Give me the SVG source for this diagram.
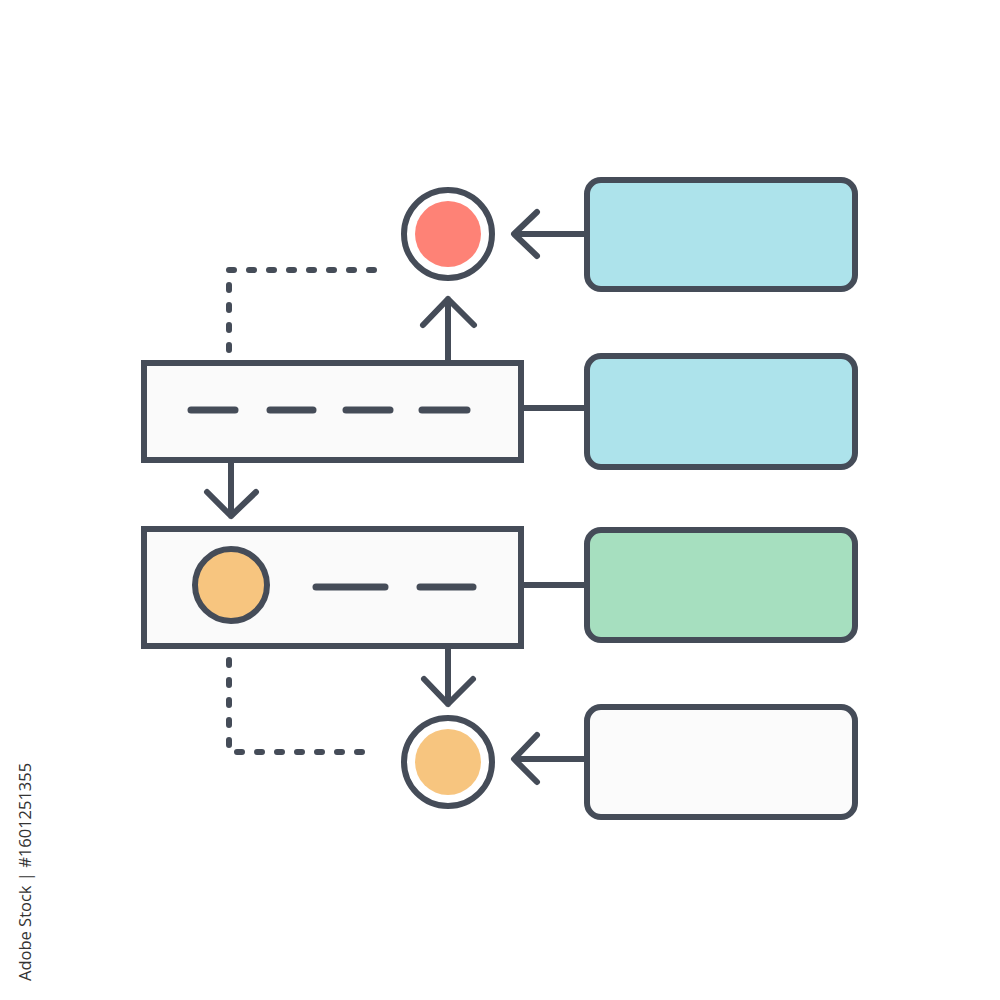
<svg xmlns="http://www.w3.org/2000/svg" width="1000" height="1000" viewBox="0 0 1000 1000">
<style>
.ln{fill:none;stroke:#454c58;stroke-width:6;stroke-linecap:round;stroke-linejoin:round}
.bar{fill:#fafafa;stroke:#454c58;stroke-width:6;stroke-linejoin:miter}
.card{stroke:#454c58;stroke-width:6}
.ring{fill:#ffffff;stroke:#454c58;stroke-width:6}
.dash{fill:none;stroke:#454c58;stroke-width:7;stroke-linecap:round}
.dot{fill:none;stroke:#454c58;stroke-width:6;stroke-linecap:round;stroke-dasharray:5 15}
.wm{font-family:"Open Sans","Liberation Sans",sans-serif;font-size:16.5px;fill:#333333}
</style>
<rect width="1000" height="1000" fill="#ffffff"/>
<g id="connectors">
  <path class="dot" d="M229,350 V270 H378"/>
  <path class="dot" d="M229,660 V752 H373"/>
  <path class="ln" d="M587,234 H515 M537,212 L514,234 L537,256"/>
  <path class="ln" d="M448,363 V299 M423,325 L448,299 L474,325"/>
  <path class="ln" d="M521,408 H587"/>
  <path class="ln" d="M231,460 V516 M207,492 L231,516 L256,492"/>
  <path class="ln" d="M521,585 H587"/>
  <path class="ln" d="M448,646 V704 M424,679 L448,704 L473,679"/>
  <path class="ln" d="M587,759 H515 M537,735 L514,759 L537,782"/>
</g>
<g id="circle-top">
  <circle class="ring" cx="448" cy="234" r="44"/>
  <circle cx="448" cy="234" r="33" fill="#fe8276"/>
</g>
<g id="circle-bottom">
  <circle class="ring" cx="448" cy="762" r="44"/>
  <circle cx="448" cy="762" r="33" fill="#f7c57f"/>
</g>
<g id="bar-1">
  <rect class="bar" x="144" y="363" width="377" height="97"/>
  <line class="dash" x1="191" y1="410" x2="235" y2="410"/>
  <line class="dash" x1="270" y1="410" x2="313" y2="410"/>
  <line class="dash" x1="346" y1="410" x2="390" y2="410"/>
  <line class="dash" x1="422" y1="410" x2="467" y2="410"/>
</g>
<g id="bar-2">
  <rect class="bar" x="144" y="529" width="377" height="117"/>
  <circle cx="231" cy="585" r="36" fill="#f7c57f" stroke="#454c58" stroke-width="6"/>
  <line class="dash" x1="316" y1="587" x2="385" y2="587"/>
  <line class="dash" x1="420" y1="587" x2="473" y2="587"/>
</g>
<g id="card-1">
  <rect class="card" x="587" y="180" width="268" height="109" rx="14" fill="#ade3eb"/>
</g>
<g id="card-2">
  <rect class="card" x="587" y="356" width="268" height="111" rx="14" fill="#ade3eb"/>
</g>
<g id="card-3">
  <rect class="card" x="587" y="530" width="268" height="110" rx="14" fill="#a6dfbf"/>
</g>
<g id="card-4">
  <rect class="card" x="587" y="707" width="268" height="110" rx="14" fill="#fbfbfb"/>
</g>
<text class="wm" transform="translate(31,981) rotate(-90)">Adobe Stock | #1601251355</text>
</svg>
